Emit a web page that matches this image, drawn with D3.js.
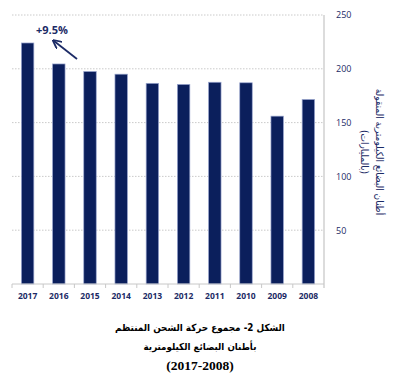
<!DOCTYPE html>
<html>
<head>
    <meta charset="utf-8" />
    <title>Freight traffic chart</title>
    <style>
        body { margin: 0; background: #fff; }
        svg { display: block; }
    </style>
    <script src="https://cdn.jsdelivr.net/npm/d3@7"></script>
</head>
<body>
    <div id="svg"></div>
    <script>
        var years = ['2017', '2016', '2015', '2014', '2013', '2012', '2011', '2010', '2009', '2008'];
        var values = [224, 204.5, 197.5, 195, 186.5, 185.5, 187.5, 187, 156, 171.5];
        var yTicks = [50, 100, 150, 200, 250];
        var titleLines = ['الشكل 2- مجموع حركة الشحن المنتظم', 'بأطنان البضائع الكيلومترية', '(2017-2008)'];
        var axisTitle = ['أطنان البضائع الكيلومترية المنقولة', '(بالمليارات)'];

        var width = 396,
            height = 377,
            plotLeft = 12,
            plotRight = 324,
            plotTop = 15,
            plotBottom = 284;

        var navy = '#0b1f5c',
            textNavy = '#1c2b66';

        var svg = d3.select('#svg')
            .append('svg')
            .attr('width', width)
            .attr('height', height);

        var xScale = d3.scaleBand()
            .domain(years)
            .range([plotLeft, plotRight])
            .paddingInner(0.6)
            .paddingOuter(0.3);

        var yScale = d3.scaleLinear()
            .domain([0, 250])
            .range([plotBottom, plotTop]);

        // shrink a text so it is at most `target` px wide (fallback fonts vary)
        function fitWidth(node, target) {
            var fs = +node.getAttribute('font-size');
            var w = node.getBBox().width;
            if (w > target) node.setAttribute('font-size', fs * target / w);
        }

        // centre a text horizontally (in its own coords) on cx, using its real box
        function centreOn(sel, cx) {
            sel.each(function() {
                var bb = this.getBBox();
                var x0 = +this.getAttribute('x');
                this.setAttribute('x', x0 + cx - (bb.x + bb.width / 2));
            });
        }

        // dotted gridlines
        svg.selectAll('.grid')
            .data(yTicks)
            .enter()
            .append('line')
            .attr('x1', plotLeft)
            .attr('x2', plotRight)
            .attr('y1', d => yScale(d))
            .attr('y2', d => yScale(d))
            .attr('stroke', '#bdbdbd')
            .attr('stroke-width', 0.8)
            .attr('stroke-dasharray', '1.5,1.5');

        // right axis line
        svg.append('line')
            .attr('x1', plotRight).attr('x2', plotRight)
            .attr('y1', plotTop).attr('y2', plotBottom + 4)
            .attr('stroke', '#d0d0d0')
            .attr('stroke-width', 1.5);

        svg.selectAll('.bars')
            .data(values)
            .enter()
            .append('rect')
            .attr('x', (d, i) => xScale(years[i]))
            .attr('width', xScale.bandwidth())
            .attr('y', d => yScale(d))
            .attr('height', d => plotBottom - yScale(d))
            .attr('fill', navy)
            .attr('stroke', '#9aa6cf')
            .attr('stroke-width', 0.7);

        // bottom axis line and ticks at band edges
        svg.append('line')
            .attr('x1', plotLeft).attr('x2', plotRight)
            .attr('y1', plotBottom).attr('y2', plotBottom)
            .attr('stroke', '#c8c8c8')
            .attr('stroke-width', 1);

        var step = xScale.step();
        var edges = years.map(d => xScale(d) - (step - xScale.bandwidth()) / 2);
        svg.selectAll('.xtick')
            .data(edges)
            .enter()
            .append('line')
            .attr('x1', d => d).attr('x2', d => d)
            .attr('y1', plotBottom).attr('y2', plotBottom + 4)
            .attr('stroke', '#c8c8c8');

        var gX = svg.append('g')
            .attr('transform', 'translate(0,' + plotBottom + ')')
            .call(d3.axisBottom(xScale).tickSize(0).tickPadding(9));
        gX.select('.domain').remove();
        gX.selectAll('text')
            .attr('fill', textNavy)
            .attr('font-family', 'Open Sans, sans-serif')
            .attr('font-weight', 'bold')
            .attr('font-size', 8.5);

        var gY = svg.append('g')
            .attr('transform', 'translate(' + plotRight + ',0)')
            .call(d3.axisRight(yScale).tickValues(yTicks).tickSize(0).tickPadding(12));
        gY.select('.domain').remove();
        gY.selectAll('text')
            .attr('fill', textNavy)
            .attr('font-family', 'Open Sans, sans-serif')
            .attr('font-size', 9);

        // rotated axis title, two lines
        var gT = svg.append('g')
            .attr('transform', 'translate(379,152) rotate(90)');
        var yt = gT.selectAll('.ytitle')
            .data(axisTitle)
            .enter()
            .append('text')
            .attr('x', 0)
            .attr('y', (d, i) => 3.5 + i * 15)
            .attr('fill', textNavy)
            .attr('font-family', 'DejaVu Sans Condensed, DejaVu Sans, sans-serif')
            .attr('font-size', 10.5)
            .text(d => d);
        fitWidth(yt.node(), 127);
        yt.attr('font-size', yt.node().getAttribute('font-size'));
        centreOn(yt, 0);

        // annotation
        svg.append('defs').append('marker')
            .attr('id', 'head')
            .attr('viewBox', '0 0 10 10')
            .attr('refX', 8).attr('refY', 5)
            .attr('markerWidth', 5).attr('markerHeight', 5)
            .attr('orient', 'auto')
            .append('path')
            .attr('d', 'M0,0 L10,5 L0,10')
            .attr('fill', 'none')
            .attr('stroke', textNavy)
            .attr('stroke-width', 2);

        svg.append('line')
            .attr('x1', 77).attr('y1', 59)
            .attr('x2', 54).attr('y2', 41)
            .attr('stroke', textNavy)
            .attr('stroke-width', 1.8)
            .attr('marker-end', 'url(#head)');

        svg.append('text')
            .attr('x', 52).attr('y', 34)
            .attr('text-anchor', 'middle')
            .attr('fill', textNavy)
            .attr('font-family', 'Open Sans, sans-serif')
            .attr('font-weight', 'bold')
            .attr('font-size', 11)
            .text('+9.5%');

        // caption: Arabic lines fitted to the reference widths
        var capWidths = [170, 113, 70];
        var cap = svg.selectAll('.caption')
            .data(titleLines)
            .enter()
            .append('text')
            .attr('x', 0)
            .attr('y', (d, i) => [331, 350, 370][i])
            .attr('fill', '#000')
            .attr('font-family', (d, i) => i < 2 ? 'DejaVu Sans Condensed, DejaVu Sans, serif' : 'Liberation Serif, serif')
            .attr('font-weight', 'bold')
            .attr('font-size', 13.5)
            .text(d => d);
        cap.each(function(d, i) { fitWidth(this, capWidths[i]); });
        centreOn(cap, 200);
    </script>
</body>
</html>
